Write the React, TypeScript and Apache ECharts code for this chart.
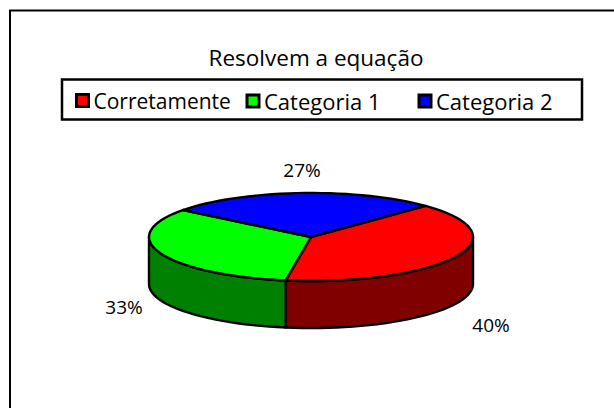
import React, { useEffect, useRef } from "react";
import * as echarts from "echarts";

const titleText = "Resolvem a equação";
const categories = ["Corretamente", "Categoria 1", "Categoria 2"];
const values = [40, 33, 27];
const topColors = ["#ff0000", "#00ff00", "#0000ff"];
const sideColors = ["#800000", "#008000", "#000080"];
const legendLefts = [75, 245.5, 417.5];
const legendFontSizes = [21, 22, 22];
const labelPositions = [[491, 325], [124, 307], [302, 170]];

const FONT = "'Open Sans', sans-serif";
const CX = 311, CY = 237, RX = 162, RY = 44, DEPTH = 47, START = 45;
const rad = (d: number) => (d * Math.PI) / 180;
const px = (d: number) => CX + RX * Math.cos(rad(d));
const py = (d: number, off = 0) => CY - RY * Math.sin(rad(d)) + off;

function arcPath(from: number, to: number, off: number, moveTo: boolean) {
  let s = moveTo ? `M${px(from)} ${py(from, off)}` : `L${px(from)} ${py(from, off)}`;
  const steps = Math.max(2, Math.ceil(Math.abs(from - to) / 3));
  for (let i = 1; i <= steps; i++) {
    const a = from + ((to - from) * i) / steps;
    s += `L${px(a)} ${py(a, off)}`;
  }
  return s;
}

export default function App() {
  const ref = useRef<HTMLDivElement>(null);
  useEffect(() => {
    const chart = echarts.init(ref.current!, undefined, { renderer: "svg" });
    const total = values.reduce((a, b) => a + b, 0);
    let acc = START;
    const spans = values.map((v) => {
      const from = acc;
      const to = acc - (v / total) * 360;
      acc = to;
      return [from, to];
    });
    const makeSeries = (i: number) => ({
      type: "custom",
      name: categories[i],
      coordinateSystem: "none",
      itemStyle: { color: topColors[i] },
      data: [[values[i]]],
      z: 2,
      renderItem: (_p: any, api: any) => {
        const value = api.value(0);
        const [from, to] = spans[i];
        const children: any[] = [];
        const wallFrom = Math.min(from, 0);
        const wallTo = Math.max(to, -180);
        if (wallFrom > wallTo) {
          children.push({
            type: "path",
            shape: {
              pathData:
                arcPath(wallFrom, wallTo, 0, true) +
                arcPath(wallTo, wallFrom, DEPTH, false) +
                "Z",
            },
            style: { fill: sideColors[i], stroke: "#000", lineWidth: 2.4, lineJoin: "round" },
          });
        }
        children.push({
          type: "path",
          shape: { pathData: `M${CX} ${CY}` + arcPath(from, to, 0, false) + "Z" },
          style: { fill: topColors[i], stroke: "#000", lineWidth: 2.4, lineJoin: "round" },
        });
        children.push({
          type: "text",
          style: {
            text: `${value}%`,
            x: labelPositions[i][0],
            y: labelPositions[i][1],
            align: "center",
            verticalAlign: "middle",
            fill: "#000",
            font: `19px ${FONT}`,
          },
        });
        return { type: "group", children };
      },
    });
    chart.setOption({
      animation: false,
      backgroundColor: "#fff",
      title: {
        text: titleText,
        left: 311,
        top: 41,
        textAlign: "center",
        textStyle: { fontFamily: FONT, fontSize: 22.5, fontWeight: "normal", color: "#000" },
      },
      legend: categories.map((c, i) => ({
        data: [{ name: c, icon: "rect" }],
        left: legendLefts[i],
        top: 90,
        padding: 0,
        itemWidth: 12,
        itemHeight: 12,
        itemGap: 0,
        selectedMode: false,
        itemStyle: { borderColor: "#000", borderWidth: 3 },
        textStyle: { fontFamily: FONT, fontSize: legendFontSizes[i], color: "#000" },
      })),
      graphic: [
        {
          type: "rect",
          z: -1,
          shape: { x: 10, y: 10.5, width: 700, height: 500 },
          style: { fill: "#fff", stroke: "#000", lineWidth: 2 },
        },
        {
          type: "rect",
          z: 0,
          shape: { x: 62, y: 79.5, width: 520, height: 40 },
          style: { fill: "#fff", stroke: "#000", lineWidth: 2.5 },
        },
      ],
      series: categories.map((_, i) => makeSeries(i)),
    });
    return () => chart.dispose();
  }, []);
  return <div ref={ref} style={{ position: "absolute", left: 0, top: 0, width: 614, height: 408 }} />;
}
